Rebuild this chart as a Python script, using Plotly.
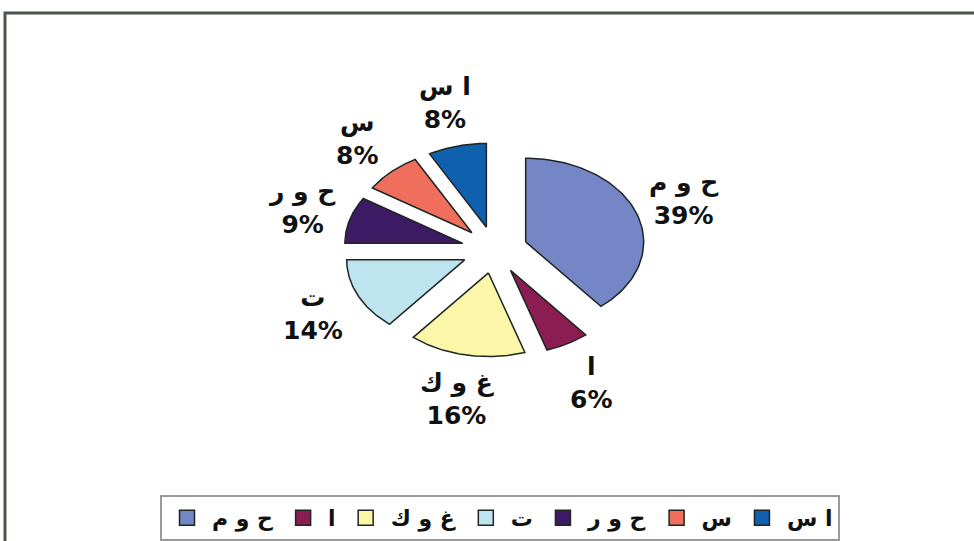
import numpy as np
import plotly.graph_objects as go

# Share of each category (percent), in drawing order clockwise from 12 o'clock
labels = ["ح و م", "ا", "غ و ك", "ت", "ح و ر", "س", "ا س"]
values = [39, 6, 16, 14, 9, 8, 8]
colors = ["#7486c6", "#8c1d52", "#fbf6a8", "#bee4ef", "#3d1a63", "#ef6f5c", "#1060b0"]

W, H = 974, 541
CX, CY = 494.6, 250.8      # pie centre in pixels
RX, RY = 118.0, 84.0       # pixel length of one data unit on x / y
PULL = 0.28                # explode distance, in radii
LAB_RX, LAB_RY = 1.70, 1.81

fig = go.Figure()

total = float(sum(values))
start = 0.0
for lab, val, col in zip(labels, values, colors):
    a0 = start / total * 2 * np.pi
    a1 = (start + val) / total * 2 * np.pi
    am = 0.5 * (a0 + a1)
    ox, oy = PULL * np.sin(am), PULL * np.cos(am)
    t = np.linspace(a0, a1, 80)
    xs = np.concatenate([[ox], ox + np.sin(t), [ox]])
    ys = np.concatenate([[oy], oy + np.cos(t), [oy]])
    fig.add_trace(go.Scatter(
        x=xs, y=ys, mode="lines", fill="toself", fillcolor=col,
        line=dict(color="#1d2620", width=1.5), showlegend=False,
        hoverinfo="text", text=f"{lab}: {val}%"))
    fig.add_annotation(
        x=LAB_RX * np.sin(am), y=LAB_RY * np.cos(am),
        text=f"{lab}<br>{val}%", showarrow=False,
        xanchor="center", yanchor="middle",
        font=dict(family="DejaVu Sans", size=25, color="#111111", weight="bold"))
    start += val

# legend entries as square swatches
for lab, col in zip(labels, colors):
    fig.add_trace(go.Scatter(
        x=[None], y=[None], mode="markers", name=lab,
        marker=dict(symbol="square", size=15, color=col,
                    line=dict(color="#1d2620", width=1.5))))

fig.update_xaxes(visible=False, range=[-CX / RX, (W - CX) / RX], fixedrange=True)
fig.update_yaxes(visible=False, range=[-(H - CY) / RY, CY / RY], fixedrange=True)

# outer chart frame
fig.add_shape(type="rect", xref="paper", yref="paper",
              x0=5 / W, x1=1.02, y0=-0.02, y1=1 - 13 / H,
              line=dict(color="#4c544c", width=3), fillcolor="rgba(0,0,0,0)")

fig.update_layout(
    width=W, height=H, margin=dict(l=0, r=0, t=0, b=0),
    paper_bgcolor="white", plot_bgcolor="white",
    legend=dict(orientation="h", x=160 / W, y=1 - 497 / H,
                xanchor="left", yanchor="top",
                bordercolor="#9a9a9a", borderwidth=2, bgcolor="white",
                font=dict(family="DejaVu Sans", size=22, color="#111111", weight="bold"),
                itemwidth=40, tracegroupgap=0),
)

fig.write_html("out.html")
